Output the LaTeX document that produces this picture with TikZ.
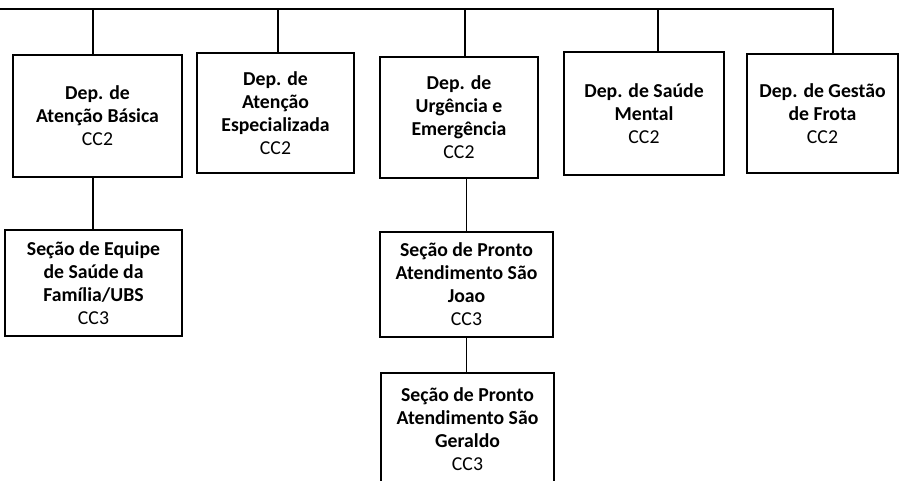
\documentclass[tikz,border=0pt]{standalone}
\usepackage{fontspec}
\setmainfont{Carlito}
\usepackage{tikz}

\tikzset{
  unit/.style 2 args={draw, line width=1.5pt, align=center, inner sep=2pt,
    font=\fontsize{14.8}{17.3}\selectfont,
    minimum width=#1*0.75pt, minimum height=#2*0.75pt},
  link/.style={line width=0.8pt}
}

\begin{document}
\begin{tikzpicture}[x=0.75pt, y=-0.75pt]
      \useasboundingbox (0,0) rectangle (901,480);
      \clip (0,0) rectangle (901,480);

      \node[unit={169}{122}] (d1) at (97.5,116){\textbf{Dep. de}\\\textbf{Atenção Básica}\\CC2};
      \node[unit={157}{120}] (d2) at (275.5,113){\textbf{Dep. de}\\\textbf{Atenção}\\\textbf{Especializada}\\CC2};
      \node[unit={158}{121}] (d3) at (459,117.5){\textbf{Dep. de}\\\textbf{Urgência e}\\\textbf{Emergência}\\CC2};
      \node[unit={160}{123}] (d4) at (644,113.5){\textbf{Dep. de Saúde}\\\textbf{Mental}\\CC2};
      \node[unit={151}{119}] (d5) at (822.5,113.5){\textbf{Dep. de Gestão}\\\textbf{de Frota}\\CC2};

      \node[unit={177}{106}] (s1) at (93.5,283){\textbf{Seção de Equipe}\\\textbf{de Saúde da}\\\textbf{Família/UBS}\\CC3};
      \node[unit={173}{105}] (s2) at (466.5,284.5){\textbf{Seção de Pronto}\\\textbf{Atendimento São}\\\textbf{Joao}\\CC3};
      \node[unit={173}{112}] (s3) at (467.5,429){\textbf{Seção de Pronto}\\\textbf{Atendimento São}\\\textbf{Geraldo}\\CC3};

      % barra superior
      \coordinate (b0) at (0,9);
      \coordinate (b1) at (93,9);
      \coordinate (b2) at (278,9);
      \coordinate (b3) at (465,9);
      \coordinate (b4) at (658,9);
      \coordinate (b5) at (833,9);

      \draw[link] (b0) -- (b5) -- (b5 |- d5.north);
      \draw[link] (b1) -- (b1 |- d1.north);
      \draw[link] (b2) -- (b2 |- d2.north);
      \draw[link] (b3) -- (b3 |- d3.north);
      \draw[link] (b4) -- (b4 |- d4.north);

      \draw[link] (b1 |- d1.south) -- (b1 |- s1.north);
      \draw[link] (s2.north) -- (s2.north |- d3.south);
      \draw[link] (s2.south) -- (s3.north -| s2.south);

    \end{tikzpicture}
\end{document}
